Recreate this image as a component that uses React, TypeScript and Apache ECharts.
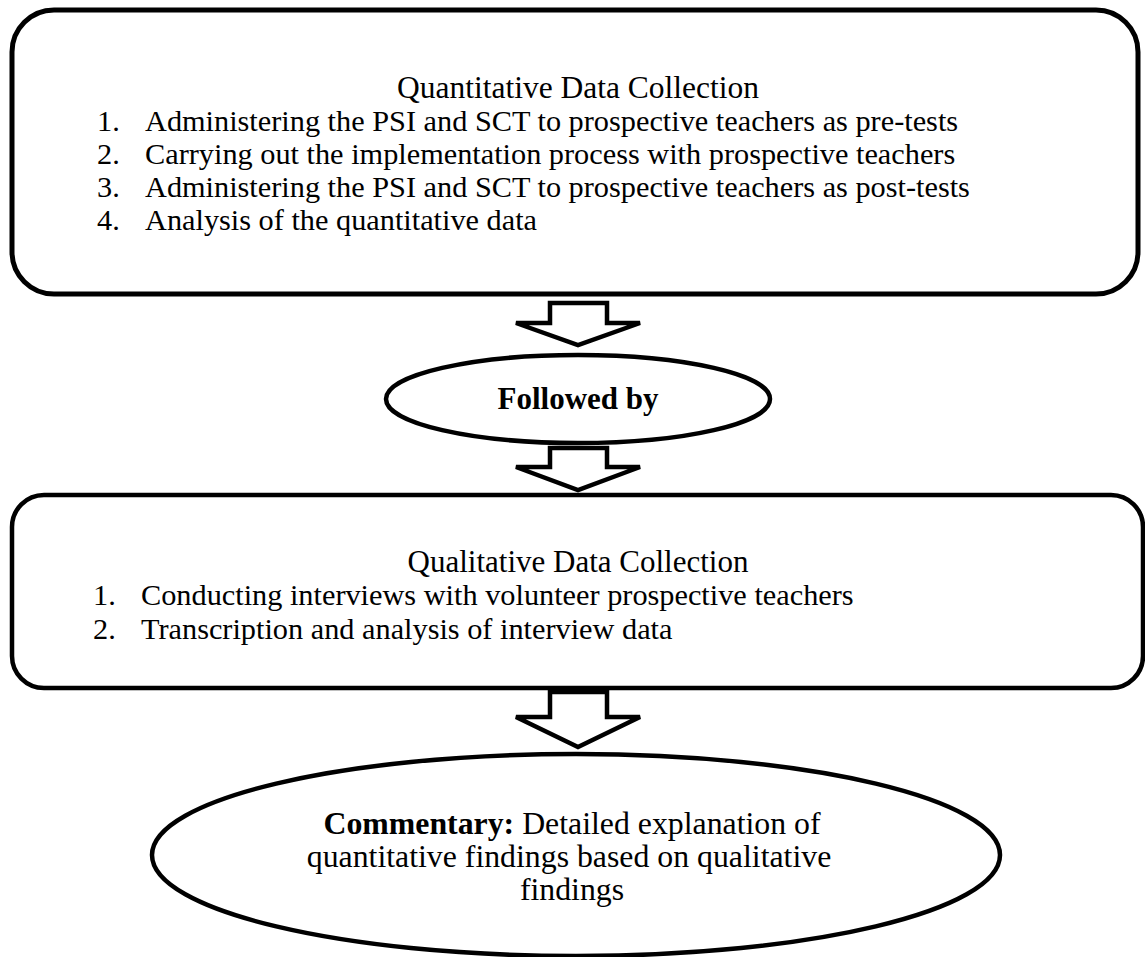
import React, { useEffect, useRef } from "react";
import * as echarts from "echarts";

const quantTitle = "Quantitative Data Collection";
const quantSteps = [
  "Administering the PSI and SCT to prospective teachers as pre-tests",
  "Carrying out the implementation process with prospective teachers",
  "Administering the PSI and SCT to prospective teachers as post-tests",
  "Analysis of the quantitative data",
];
const connectorLabel = "Followed by";
const qualTitle = "Qualitative Data Collection";
const qualSteps = [
  "Conducting interviews with volunteer prospective teachers",
  "Transcription and analysis of interview data",
];
const commentaryLead = "Commentary:";
const commentaryLines = [
  "Detailed explanation of",
  "quantitative findings based on qualitative",
  "findings",
];

const FONT = '"Liberation Serif", "Times New Roman", serif';
const LW = 4.5;

function arrow(top: number, neck: number, tip: number) {
  const cx = 578;
  return {
    type: "polygon",
    shape: {
      points: [
        [cx - 28, top],
        [cx + 29, top],
        [cx + 29, neck],
        [cx + 62, neck],
        [cx, tip],
        [cx - 62, neck],
        [cx - 28, neck],
      ],
    },
    style: { fill: "#fff", stroke: "#000", lineWidth: LW, lineJoin: "miter" },
  };
}

function txt(x: number, baseline: number, text: string, size: number, align: string, bold = false) {
  return {
    type: "text",
    x,
    y: baseline,
    style: {
      text,
      fontFamily: FONT,
      fontSize: size,
      fontWeight: bold ? "bold" : "normal",
      fill: "#000",
      align,
      verticalAlign: "bottom",
    },
  };
}

export default function App() {
  const ref = useRef<HTMLDivElement>(null);
  useEffect(() => {
    if (!ref.current) return;
    const chart = echarts.init(ref.current, null, { renderer: "svg" });
    const els: any[] = [];
    // Box 1
    els.push({
      type: "rect",
      shape: { x: 12, y: 10, width: 1126, height: 284, r: 42 },
      style: { fill: "#fff", stroke: "#000", lineWidth: 5 },
    });
    const fs = 30.3;
    const off = 7;
    els.push(txt(578, 96 + off, quantTitle, 31.5, "center"));
    quantSteps.forEach((s, i) => {
      const b = 129 + i * 33 + off;
      els.push(txt(97, b, `${i + 1}.`, fs, "left"));
      els.push(txt(145, b, s, fs, "left"));
    });
    els.push(arrow(303, 323, 345));
    els.push({
      type: "ellipse",
      shape: { cx: 578, cy: 399, rx: 192, ry: 44 },
      style: { fill: "#fff", stroke: "#000", lineWidth: LW },
    });
    els.push(txt(578, 407 + off, connectorLabel, 31, "center", true));
    els.push(arrow(448, 467, 490));
    // Box 2
    els.push({
      type: "rect",
      shape: { x: 12, y: 495, width: 1131, height: 193, r: 32 },
      style: { fill: "#fff", stroke: "#000", lineWidth: LW },
    });
    els.push(txt(578, 570 + off, qualTitle, 31, "center"));
    qualSteps.forEach((s, i) => {
      const b = 603 + i * 34 + off;
      els.push(txt(93, b, `${i + 1}.`, fs, "left"));
      els.push(txt(141, b, s, fs, "left"));
    });
    els.push(arrow(692, 717, 747));
    els.push({
      type: "ellipse",
      shape: { cx: 576, cy: 855, rx: 424, ry: 101 },
      style: { fill: "#fff", stroke: "#000", lineWidth: LW },
    });
    const cfs = 31.8;
    const cBase = [832, 865, 898];
    els.push({
      type: "text",
      x: 572,
      y: cBase[0] + off,
      style: {
        text: `{b|${commentaryLead}} ${commentaryLines[0]}`,
        fontFamily: FONT,
        fontSize: cfs,
        fill: "#000",
        align: "center",
        verticalAlign: "bottom",
        rich: { b: { fontFamily: FONT, fontSize: cfs, fontWeight: "bold", fill: "#000" } },
      },
    });
    els.push(txt(569, cBase[1] + off, commentaryLines[1], cfs, "center"));
    els.push(txt(572, cBase[2] + off, commentaryLines[2], cfs, "center"));

    chart.setOption({
      animation: false,
      backgroundColor: "#fff",
      graphic: { elements: els },
    });
    return () => chart.dispose();
  }, []);
  return (
    <div
      ref={ref}
      style={{ position: "fixed", left: 0, top: 0, width: 1145, height: 957, background: "#fff" }}
    />
  );
}
